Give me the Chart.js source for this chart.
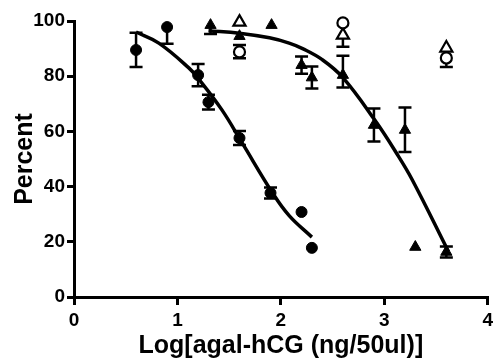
<!DOCTYPE html>
<html>
<head>
<meta charset="utf-8">
<style>
  html, body { margin: 0; padding: 0; background: #fff; }
  #wrap { width: 497px; height: 361px; }
</style>
<script src="https://cdn.jsdelivr.net/npm/chart.js@4.4.1/dist/chart.umd.min.js"></script>
</head>
<body>
<div id="wrap"><canvas id="chart"></canvas></div>
<script>
// ---- axis ticks ----
const xTicks = [0, 1, 2, 3, 4];
const yTicks = [0, 20, 40, 60, 80, 100];

// ---- filled circles ----
const circX = [0.6, 0.9, 1.2, 1.3, 1.6, 1.9, 2.2, 2.3];
const circY = [89.5, 97.8, 80.4, 70.6, 57.6, 37.7, 30.8, 17.8];
const circUp = [6.2, 0, 4, 2.7, 2.5, 2, 0, 0];
const circDown = [6.2, 6, 4, 2.7, 2.5, 2, 0, 0];

// ---- filled triangles ----
const triX = [1.32, 1.6, 1.91, 2.2, 2.3, 2.6, 2.9, 3.2, 3.3, 3.6];
const triY = [98.5, 94.5, 98.5, 84, 79.5, 80.4, 62.3, 60.5, 18.1, 16.3];
const triUp = [0, 0, 0, 3.1, 4, 7, 6, 8.2, 0, 2];
const triDown = [3.2, 0, 0, 3.1, 4, 4.5, 6, 8, 0, 2];

// ---- open triangles ----
const oTriX = [1.6, 2.6, 3.6];
const oTriY = [99.6, 94.9, 90.2];
const oTriUp = [0, 0, 0];
const oTriDown = [0, 4.2, 0];

// ---- open circles ----
const oCircX = [1.6, 2.6, 3.6];
const oCircY = [88.8, 99.3, 86.6];
const oCircUp = [2.5, 0, 0];
const oCircDown = [2.3, 0, 3.3];

// ---- fitted curves ----
const fit1X = [0.6, 0.82, 1.11, 1.21, 1.43, 1.62, 1.92, 2.08, 2.3];
const fit1Y = [96, 92, 83, 78.8, 67.8, 56.2, 37.7, 29.5, 21.7];
const fit2X = [1.3, 1.6, 1.89, 2.08, 2.21, 2.4, 2.6, 2.91, 3.12, 3.27, 3.62];
const fit2Y = [96.5, 95.6, 93.9, 92, 90, 86, 79.5, 64, 52, 42.5, 16.5];

const FONT = "'Liberation Sans', Arial, sans-serif";

function pts(xs, ys) {
  return xs.map((x, i) => ({ x: x, y: ys[i] }));
}

// draws vertical error bars with caps under the markers
const errorBars = {
  id: 'errorBars',
  beforeDatasetsDraw(chart) {
    const { ctx, scales: { x, y } } = chart;
    ctx.save();
    ctx.strokeStyle = '#000';
    ctx.lineWidth = 2.5;
    chart.data.datasets.forEach(ds => {
      if (!ds.errUp) return;
      ds.data.forEach((p, i) => {
        const px = x.getPixelForValue(p.x);
        const cap = 6.5;
        const segs = [[ds.errUp[i], 1], [ds.errDown[i], -1]];
        segs.forEach(([e, dir]) => {
          if (!e) return;
          const py0 = y.getPixelForValue(p.y);
          const py1 = y.getPixelForValue(p.y + dir * e);
          ctx.beginPath();
          ctx.moveTo(px, py0);
          ctx.lineTo(px, py1);
          ctx.moveTo(px - cap, py1);
          ctx.lineTo(px + cap, py1);
          ctx.stroke();
        });
      });
    });
    ctx.restore();
  }
};

const markerBase = { showLine: false, borderColor: '#000' };
const curveBase = { showLine: true, pointRadius: 0, borderColor: '#000', borderWidth: 3.5, tension: 0.4, fill: false };

new Chart(document.getElementById('chart'), {
  type: 'scatter',
  data: {
    datasets: [
      { ...markerBase, data: pts(oCircX, oCircY), errUp: oCircUp, errDown: oCircDown,
        pointStyle: 'circle', pointRadius: 5.5, backgroundColor: '#fff', borderWidth: 2.2 },
      { ...markerBase, data: pts(oTriX, oTriY), errUp: oTriUp, errDown: oTriDown,
        pointStyle: 'triangle', pointRadius: 7, backgroundColor: '#fff', borderWidth: 2.2 },
      { ...markerBase, data: pts(circX, circY), errUp: circUp, errDown: circDown,
        pointStyle: 'circle', pointRadius: 5.5, backgroundColor: '#000', borderWidth: 1 },
      { ...markerBase, data: pts(triX, triY), errUp: triUp, errDown: triDown,
        pointStyle: 'triangle', pointRadius: 6.5, backgroundColor: '#000', borderWidth: 1 },
      { ...curveBase, data: pts(fit1X, fit1Y) },
      { ...curveBase, data: pts(fit2X, fit2Y) }
    ]
  },
  options: {
    responsive: true,
    maintainAspectRatio: false,
    animation: false,
    clip: false,
    layout: { padding: { top: 21, right: 9, left: 0, bottom: 0 } },
    plugins: { legend: { display: false }, tooltip: { enabled: false } },
    scales: {
      x: {
        type: 'linear',
        min: 0,
        max: 4,
        afterBuildTicks: s => { s.ticks = xTicks.map(v => ({ value: v })); },
        afterFit: s => { s.height = 64; },
        grid: { drawOnChartArea: false, drawTicks: true, tickLength: 8, color: '#000', lineWidth: 3 },
        border: { display: true, color: '#000', width: 3 },
        ticks: { color: '#000', padding: 4, font: { family: FONT, size: 19, weight: 'bold' } },
        title: { display: true, text: 'Log[agal-hCG (ng/50ul)]', color: '#000',
          padding: { top: 0, bottom: 0 }, font: { family: FONT, size: 25, weight: 'bold' } }
      },
      y: {
        type: 'linear',
        min: 0,
        max: 100,
        afterBuildTicks: s => { s.ticks = yTicks.map(v => ({ value: v })); },
        afterFit: s => { s.width = 74; },
        grid: { drawOnChartArea: false, drawTicks: true, tickLength: 7, color: '#000', lineWidth: 3 },
        border: { display: true, color: '#000', width: 3 },
        ticks: { color: '#000', padding: 2, font: { family: FONT, size: 19, weight: 'bold' } },
        title: { display: true, text: 'Percent', color: '#000',
          padding: { top: 10, bottom: 0 }, font: { family: FONT, size: 25, weight: 'bold' } }
      }
    }
  },
  plugins: [errorBars]
});
</script>
</body>
</html>
